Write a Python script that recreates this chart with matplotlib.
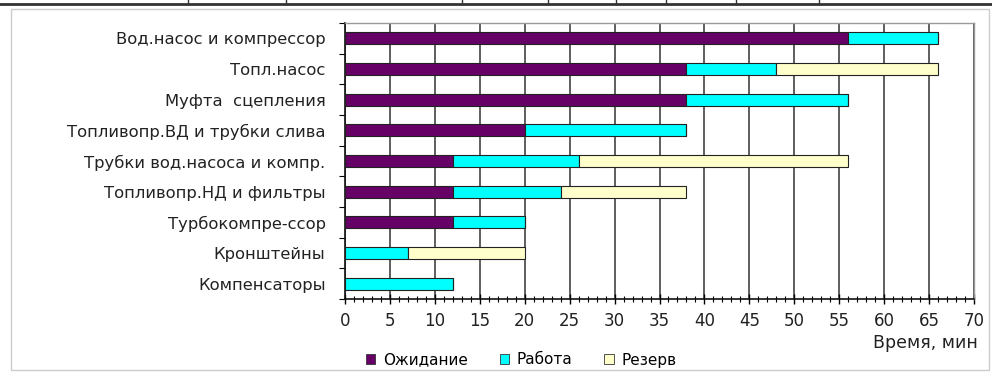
import matplotlib
matplotlib.use("Agg")
import matplotlib.pyplot as plt
from matplotlib.lines import Line2D
from matplotlib.patches import Rectangle, Patch
from matplotlib.ticker import MultipleLocator
import numpy as np

plt.rcParams['font.family'] = ['DejaVu Sans']

categories = [
    "Вод.насос и компрессор",
    "Топл.насос",
    "Муфта  сцепления",
    "Топливопр.ВД и трубки слива",
    "Трубки вод.насоса и компр.",
    "Топливопр.НД и фильтры",
    "Турбокомпре-ссор",
    "Кронштейны",
    "Компенсаторы",
]
waiting = [56, 38, 38, 20, 12, 12, 12, 0, 0]
work = [10, 10, 18, 18, 14, 12, 8, 7, 12]
reserve = [0, 18, 0, 0, 30, 14, 0, 13, 0]
series_names = ["Ожидание", "Работа", "Резерв"]
series_colors = ["#660066", "#00FFFF", "#FFFFCC"]
x_ticks = list(range(0, 75, 5))
x_label = "Время, мин"

fig = plt.figure(figsize=(9.92, 3.72), dpi=100)
ax = fig.add_axes([345/992, 1-299/372, (974-345)/992, (299-23)/372])

y = np.arange(len(categories))
left = np.zeros(len(categories))
for vals, name, col in zip([waiting, work, reserve], series_names, series_colors):
    v = np.array(vals, dtype=float)
    ax.barh(y, v, left=left, height=0.4, color=col, edgecolor="#222222",
            linewidth=0.8, label=name, zorder=3)
    left += v

ax.set_xlim(0, 70)
ax.set_ylim(len(categories) - 0.5, -0.5)
ax.set_xticks(x_ticks)
ax.set_xticklabels([str(t) for t in x_ticks], fontsize=12, color="#222222")
ax.xaxis.set_minor_locator(MultipleLocator(1))
ax.tick_params(axis="x", which="major", direction="inout", length=7, width=1, pad=6)
ax.tick_params(axis="x", which="minor", direction="inout", length=4, width=0.8)
ax.grid(axis="x", color="#333333", linewidth=1.1, zorder=1)

ax.set_yticks(y)
ax.set_yticklabels(categories, fontsize=11.8, color="#222222")
ax.tick_params(axis="y", which="major", length=0, pad=14)
ax.set_yticks(np.arange(-0.5, len(categories), 1), minor=True)
ax.tick_params(axis="y", which="minor", direction="out", length=4, width=0.8)

for s in ["top", "right"]:
    ax.spines[s].set_color("#999999")
    ax.spines[s].set_linewidth(1.0)
ax.spines["left"].set_color("#111111")
ax.spines["left"].set_linewidth(1.2)
ax.spines["bottom"].set_color("#111111")
ax.spines["bottom"].set_linewidth(1.2)

fig.text(978/992, 1-343/372, x_label, ha="right", va="center", fontsize=12.5, color="#222222")

handles = [Patch(facecolor=c, edgecolor="#333333", linewidth=0.6) for c in series_colors]
fig.legend(handles, series_names, loc="center left", bbox_to_anchor=(366/992, 1-360/372),
           ncol=3, frameon=False, fontsize=11, handlelength=0.6, handleheight=0.6,
           handletextpad=0.5, columnspacing=2.1, borderaxespad=0, borderpad=0)

# outer frame and top table line
fig.add_artist(Rectangle((11/992, 1-370/372), (989-11)/992, (370-9)/372,
                         transform=fig.transFigure, fill=False, edgecolor="#cccccc", linewidth=1))
fig.add_artist(Line2D([0, 1], [1-4/372, 1-4/372], transform=fig.transFigure, color="#333333", linewidth=2))
for xp in [188, 286, 462, 548, 616, 666, 736, 819]:
    fig.add_artist(Line2D([xp/992, xp/992], [1-4/372, 1], transform=fig.transFigure, color="#333333", linewidth=1))

fig.savefig("out.png", dpi=100)
